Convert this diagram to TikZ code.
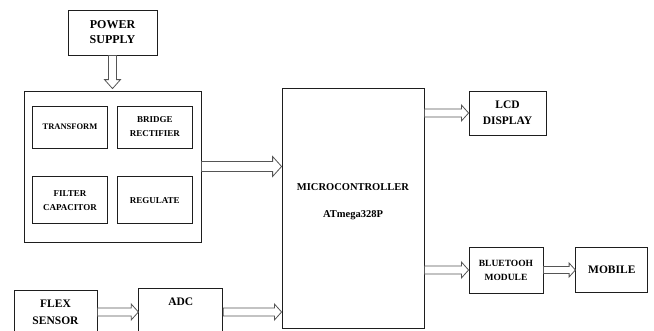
\documentclass[tikz,border=0pt]{standalone}
\usepackage{fontspec}
\setmainfont{Liberation Serif}
\usetikzlibrary{positioning,calc}
\definecolor{boxline}{RGB}{30,30,30}
\definecolor{arrowgray}{RGB}{85,85,85}

% hollow block arrows, drawn between two points at the same height
\newcommand{\fatarrow}[3][4]{%
  \draw[hollow] let \p1=(#2), \p2=(#3) in
    (\x1,\y1+#1pt) -- (\x2-1.8*#1pt,\y1+#1pt) -- (\x2-1.8*#1pt,\y1+2*#1pt)
    -- (\x2,\y1) -- (\x2-1.8*#1pt,\y1-2*#1pt) -- (\x2-1.8*#1pt,\y1-#1pt)
    -- (\x1,\y1-#1pt) -- cycle;}
\newcommand{\fatdown}[2]{%
  \draw[hollow] let \p1=(#1), \p2=(#2) in
    (\x1-4pt,\y1) -- (\x1-4pt,\y2+9pt) -- (\x1-8pt,\y2+9pt) -- (\x1,\y2)
    -- (\x1+8pt,\y2+9pt) -- (\x1+4pt,\y2+9pt) -- (\x1+4pt,\y1) -- cycle;}

\begin{document}
\begin{tikzpicture}[x=1pt, y=-1pt,
  blk/.style={draw=boxline, line width=0.8pt, align=center, inner sep=1pt,
              font=\bfseries},
  sub/.style={blk, minimum width=75pt},
  hollow/.style={draw=arrowgray, line width=0.8pt, fill=white, line join=miter}]
\useasboundingbox (0,0) rectangle (654,330);
\clip (0,0) rectangle (654,330);
% power section
\node[blk, minimum width=89pt, minimum height=45pt,
      font=\bfseries\fontsize{12}{15}\selectfont] (psu) at (112.5,32.5) {POWER\\SUPPLY};
\node[blk, minimum width=177pt, minimum height=151pt] (pwr) at (112.5,166.5) {};
\node[sub, minimum height=42pt, font=\bfseries\fontsize{8.5}{13}\selectfont]
      (tr) at (70,127) {TRANSFORM};
\node[sub, minimum height=42pt, right=9pt of tr,
      font=\bfseries\fontsize{9}{14}\selectfont] (br) {BRIDGE\\RECTIFIER};
\node[sub, minimum height=47pt, below=28pt of tr,
      font=\bfseries\fontsize{9}{14}\selectfont] (fc) {FILTER\\CAPACITOR};
\node[sub, minimum height=47pt, right=9pt of fc,
      font=\bfseries\fontsize{9}{14}\selectfont] (rg) {REGULATE};
% controller and outputs
\node[blk, minimum width=142pt, minimum height=240pt] (mcu) at (353,208) {};
\node[font=\bfseries\fontsize{10.5}{13}\selectfont, align=center] (mcutxt)
      at ([yshift=6.5pt]mcu.center) {MICROCONTROLLER\\[14pt]ATmega328P};
\node[blk, minimum width=77pt, minimum height=44pt,
      font=\bfseries\fontsize{11.5}{16}\selectfont] (lcd) at (507.5,113) {LCD\\DISPLAY};
\node[blk, minimum width=74pt, minimum height=46pt,
      font=\bfseries\fontsize{9.5}{14}\selectfont] (bt) at (506,270) {BLUETOOH\\MODULE};
\node[blk, minimum width=72pt, minimum height=45pt, right=32pt of bt,
      font=\bfseries\fontsize{11.5}{16}\selectfont] (mob) {MOBILE};
% sensor input
\node[blk, minimum width=83pt, minimum height=44pt,
      font=\bfseries\fontsize{11.5}{17}\selectfont] (flex) at (55.5,312) {FLEX\\SENSOR};
\node[blk, minimum width=84pt, minimum height=48pt, right=41pt of flex,
      label={[anchor=north, yshift=-7pt, font=\bfseries\fontsize{11.5}{14}\selectfont]north:ADC}]
      (adc) {};
% arrows
\fatdown{psu.south}{[yshift=2pt]pwr.north}
\fatarrow[5]{pwr.east}{mcu.west |- pwr.east}
\fatarrow{mcu.east |- lcd.west}{lcd.west}
\fatarrow{mcu.east |- bt.west}{bt.west}
\fatarrow[3.5]{bt.east}{mob.west |- bt.east}
\fatarrow{flex.east}{adc.west |- flex.east}
\fatarrow{adc.east}{mcu.west |- adc.east}
\end{tikzpicture}
\end{document}
